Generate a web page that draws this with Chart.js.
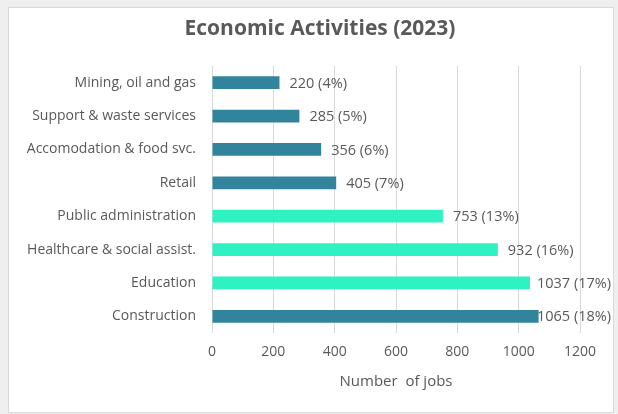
<!DOCTYPE html>
<html>
<head>
<meta charset="utf-8">
<script src="https://cdn.jsdelivr.net/npm/chart.js@4"></script>
<style>
  html, body { margin: 0; padding: 0; background: #efefef; }
  canvas { display: block; }
</style>
</head>
<body>
<canvas id="chart" width="618" height="414"></canvas>
<script>
// Employment by economic activity, 2023
const categories = [
  'Mining, oil and gas',
  'Support & waste services',
  'Accomodation & food svc.',
  'Retail',
  'Public administration',
  'Healthcare & social assist.',
  'Education',
  'Construction'
];
const jobs = [220, 285, 356, 405, 753, 932, 1037, 1065];
const sharePct = [4, 5, 6, 7, 13, 16, 17, 18];
const xTicks = [0, 200, 400, 600, 800, 1000, 1200];

const chartTitle = 'Economic Activities (2023)';
const axisTitle = 'Number  of jobs';

// Public-sector activities get the bright accent colour
const accentCategories = new Set(['Public administration', 'Healthcare & social assist.', 'Education']);
const DARK = '#31849b';
const ACCENT = '#2ff2c3';
const TEXT = '#595959';
const FONT = "'Open Sans', 'DejaVu Sans', sans-serif";

// Grey page, white bordered chart panel and the heading
const panelPlugin = {
  id: 'panel',
  beforeDraw(chart) {
    const ctx = chart.ctx;
    ctx.save();
    ctx.fillStyle = '#efefef';
    ctx.fillRect(0, 0, chart.width, chart.height);
    ctx.fillStyle = '#ffffff';
    ctx.fillRect(8, 7, 606, 406);
    ctx.strokeStyle = '#d9d9d9';
    ctx.lineWidth = 1;
    ctx.strokeRect(8.5, 7.5, 605, 405);
    ctx.font = 'bold 21px ' + FONT;
    ctx.fillStyle = TEXT;
    ctx.textAlign = 'center';
    ctx.textBaseline = 'middle';
    ctx.fillText(chartTitle, 320, 29);
    ctx.restore();
  }
};

// Value + share labels at the end of each bar, kept inside the panel
const valueLabels = {
  id: 'valueLabels',
  afterDatasetsDraw(chart) {
    const ctx = chart.ctx;
    const meta = chart.getDatasetMeta(0);
    ctx.save();
    ctx.font = '14.5px ' + FONT;
    ctx.fillStyle = TEXT;
    ctx.textBaseline = 'middle';
    ctx.textAlign = 'left';
    meta.data.forEach((bar, i) => {
      const text = jobs[i] + ' (' + sharePct[i] + '%)';
      const w = ctx.measureText(text).width;
      let x = bar.x + 10;
      if (x + w > 611) x = 611 - w;
      ctx.fillText(text, x, bar.y + 1);
    });
    ctx.restore();
  }
};

new Chart(document.getElementById('chart'), {
  type: 'bar',
  data: {
    labels: categories,
    datasets: [{
      data: jobs,
      backgroundColor: categories.map(c => accentCategories.has(c) ? ACCENT : DARK),
      borderWidth: 0,
      barPercentage: 0.38,
      categoryPercentage: 1
    }]
  },
  options: {
    indexAxis: 'y',
    responsive: false,
    animation: false,
    devicePixelRatio: 1,
    layout: { padding: { left: 8, right: 38, top: 66, bottom: 14 } },
    plugins: {
      legend: { display: false },
      tooltip: { enabled: false },
      title: { display: false }
    },
    scales: {
      x: {
        min: 0,
        max: 1200,
        afterBuildTicks(scale) { scale.ticks = xTicks.map(v => ({ value: v })); },
        afterFit(scale) { scale.height = 67; },
        grid: { color: '#d9d9d9', drawTicks: false },
        border: { display: false },
        ticks: {
          color: TEXT,
          font: { family: FONT, size: 14 },
          padding: 11,
          callback: v => String(v)
        },
        title: {
          display: true,
          text: axisTitle,
          color: TEXT,
          font: { family: FONT, size: 15, lineHeight: 1.2 },
          padding: { top: 4, bottom: 9 }
        }
      },
      y: {
        afterFit(scale) { scale.width = 204; },
        grid: { display: false, drawTicks: false },
        border: { display: false },
        ticks: { color: TEXT, font: { family: FONT, size: 14 }, padding: 16 }
      }
    }
  },
  plugins: [panelPlugin, valueLabels]
});
</script>
</body>
</html>
